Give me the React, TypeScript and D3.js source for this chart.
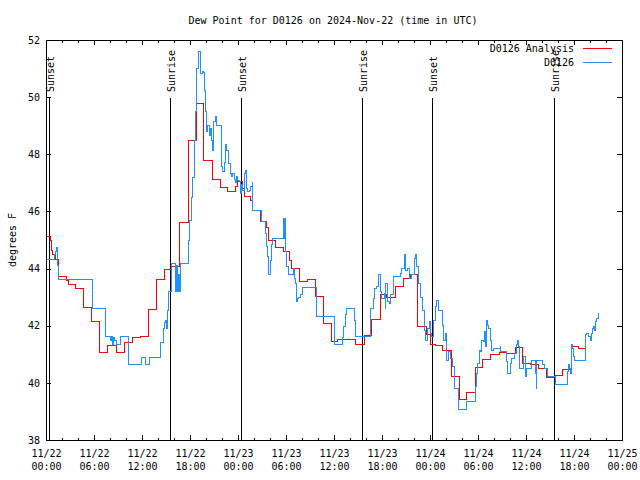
import { useEffect, useRef } from 'react'
import * as d3 from 'd3'

const chartTitle = 'Dew Point for D0126 on 2024-Nov-22 (time in UTC)'
const yAxisLabel = 'degrees F'
const seriesNames = ['D0126 Analysis', 'D0126']
const seriesColors = ['#ff0000', '#1e90ff']

// hours since 11/22 00:00 UTC
const xTickHours = [0, 6, 12, 18, 24, 30, 36, 42, 48, 54, 60, 66, 72]
const xTickDays = ['11/22', '11/22', '11/22', '11/22', '11/23', '11/23', '11/23', '11/23', '11/24', '11/24', '11/24', '11/24', '11/25']
const xTickTimes = ['00:00', '06:00', '12:00', '18:00', '00:00', '06:00', '12:00', '18:00', '00:00', '06:00', '12:00', '18:00', '00:00']
const yTicks = [38, 40, 42, 44, 46, 48, 50, 52]

const sunEvents: [number, string][] = [
  [0.33, 'Sunset'], [15.5, 'Sunrise'], [24.4, 'Sunset'],
  [39.54, 'Sunrise'], [48.29, 'Sunset'], [63.54, 'Sunrise'],
]

// [hour, deg F]
const analysis: [number, number][] = [
  [0, 45.14], [0.59, 44.97], [0.71, 44.65], [0.84, 44.51], [1.13, 44.32], [1.56, 43.74], [2.59, 43.6], [2.79, 43.43],
  [3.71, 43.31], [4.69, 42.64], [5.71, 42.16], [6.69, 41.07], [7.69, 41.31], [8.75, 41.07], [9.81, 41.4], [10.75, 41.6],
  [11.75, 41.64], [12.75, 42.57], [13.75, 43.62], [14.75, 43.97], [15.69, 44.07], [16.7, 45.6], [17.79, 48.48], [18.84, 49.78],
  [19.71, 47.77], [20.75, 47.12], [21.75, 46.83], [22.69, 46.69], [23.63, 46.89], [23.88, 47.06], [24.5, 46.8], [24.75, 46.54],
  [25.5, 46.38], [25.79, 46.05], [26.75, 45.64], [27.5, 45.44], [27.79, 45.0], [28.71, 44.74], [29.66, 44.59], [30.38, 44.3],
  [30.71, 44.01], [31.63, 43.54], [32.66, 43.63], [33.71, 43.04], [34.66, 42.07], [35.71, 41.46], [36.46, 41.53], [38.71, 41.36],
  [39.75, 41.65], [40.71, 42.22], [41.75, 43.1], [42.59, 42.99], [43.63, 43.37], [44.63, 43.66], [45.59, 43.78], [46.46, 41.97],
  [47.5, 41.68], [48.0, 41.35], [48.63, 41.3], [49.59, 41.15], [50.71, 40.24], [51.63, 39.42], [52.59, 39.67], [53.63, 40.54],
  [54.59, 40.82], [55.59, 41.01], [56.63, 41.07], [57.59, 41.03], [58.63, 41.24], [59.59, 40.69], [60.5, 40.65], [61.54, 40.5],
  [62.59, 40.2], [63.63, 40.26], [64.59, 40.47], [65.71, 41.28], [66.54, 41.19], [67.5, 41.19],
]

const observed: [number, number][] = [
  [0.08, 44.32], [1.04, 44.5], [1.13, 44.6], [1.25, 44.75], [1.38, 44.5], [1.44, 44.1], [1.54, 43.62], [5.84, 42.61],
  [7.46, 41.64], [8.06, 41.5], [8.19, 41.64], [8.31, 41.36], [8.44, 41.6], [8.56, 41.5], [8.75, 41.36], [9.34, 41.64],
  [10.29, 40.63], [11.88, 40.89], [12.41, 40.63], [12.91, 40.89], [14.25, 41.4], [14.66, 41.91], [14.81, 42.1], [14.94, 42.2],
  [15.06, 41.91], [15.16, 42.55], [15.29, 43.19], [15.63, 43.7], [15.71, 44.18], [16.21, 43.19], [16.31, 44.1], [16.46, 43.19],
  [16.56, 43.8], [16.66, 43.19], [16.75, 44.18], [17.79, 45.0], [17.94, 45.7], [18.13, 46.5], [18.31, 47.2], [18.5, 48.5],
  [18.69, 49.5], [18.84, 51.0], [19.04, 51.59], [19.25, 50.83], [19.5, 50.9], [19.66, 50.88], [19.75, 50.25], [19.88, 49.49],
  [20.0, 48.8], [20.21, 49.02], [20.38, 48.67], [20.5, 48.9], [20.63, 48.5], [20.75, 48.15], [20.91, 49.14], [21.13, 49.34],
  [21.34, 49.02], [21.88, 47.57], [22.09, 47.39], [22.25, 47.7], [22.41, 48.33], [22.59, 48.15], [22.79, 47.68], [23.0, 47.33],
  [23.21, 47.22], [23.34, 47.33], [23.5, 47.12], [23.63, 47.0], [23.84, 47.22], [23.91, 47.08], [24.16, 47.04], [24.34, 46.63],
  [24.46, 46.93], [24.59, 46.75], [24.75, 47.33], [24.88, 47.45], [25.0, 46.81], [25.16, 46.69], [25.41, 46.75], [25.59, 46.89],
  [25.75, 47.0], [25.84, 46.05], [26.88, 45.64], [27.46, 45.23], [27.54, 44.77], [27.66, 44.42], [27.84, 43.78], [28.0, 44.3],
  [28.21, 44.83], [28.34, 45.06], [29.63, 45.76], [29.71, 45.06], [29.79, 45.76], [29.94, 44.6], [30.09, 44.07], [30.29, 43.78],
  [30.91, 44.0], [31.04, 43.65], [31.21, 43.48], [31.34, 42.84], [31.41, 42.95], [31.54, 43.0], [31.75, 43.1], [32.09, 43.34],
  [33.84, 42.34], [36.0, 41.35], [37.04, 41.6], [37.16, 41.97], [37.38, 42.38], [37.59, 42.61], [38.54, 42.2], [38.63, 41.62],
  [40.5, 42.08], [40.59, 42.61], [40.91, 42.96], [41.04, 43.31], [41.34, 43.37], [41.54, 43.78], [41.75, 43.19], [41.96, 42.96],
  [42.29, 43.13], [42.38, 42.61], [42.46, 43.48], [42.71, 42.84], [42.91, 42.78], [43.09, 43.08], [43.41, 43.72], [44.25, 43.83],
  [44.46, 44.01], [44.79, 44.48], [44.96, 43.95], [45.21, 44.01], [45.38, 43.66], [45.71, 43.78], [46.04, 44.36], [46.13, 44.48],
  [46.34, 44.07], [46.54, 43.48], [46.75, 43.0], [47.09, 42.55], [47.25, 41.85], [47.46, 41.5], [47.66, 41.91], [47.88, 42.14],
  [48.0, 41.73], [48.21, 41.62], [48.41, 42.2], [48.63, 42.67], [48.84, 42.9], [49.04, 42.53], [49.54, 42.02], [49.66, 41.5],
  [49.88, 41.73], [50.0, 40.8], [50.29, 41.09], [50.59, 40.86], [50.79, 40.57], [51.04, 39.81], [51.54, 39.08], [52.59, 39.34],
  [53.63, 39.87], [53.75, 40.33], [53.91, 40.68], [54.13, 41.15], [54.25, 41.09], [54.46, 41.5], [54.66, 41.44], [54.79, 41.79],
  [54.88, 41.26], [55.0, 42.2], [55.21, 42.02], [55.29, 41.91], [55.59, 41.5], [55.71, 41.15], [55.91, 41.21], [56.75, 41.26],
  [56.84, 41.09], [57.5, 40.74], [57.66, 40.33], [58.0, 40.68], [58.21, 40.86], [58.54, 41.03], [58.84, 41.33], [58.96, 41.5],
  [59.04, 41.26], [59.16, 40.51], [59.66, 40.92], [59.88, 40.22], [60.0, 40.39], [60.09, 40.51], [60.71, 40.8], [61.21, 40.33],
  [61.25, 39.81], [61.34, 40.8], [62.09, 40.63], [62.25, 40.51], [62.66, 40.24], [63.63, 39.96], [65.16, 40.39], [65.29, 40.63],
  [65.41, 40.51], [65.5, 40.33], [65.63, 41.03], [65.71, 41.33], [65.84, 41.21], [65.91, 40.92], [66.04, 40.78], [67.46, 41.68],
  [67.59, 41.73], [67.79, 41.62], [68.0, 41.5], [68.13, 41.73], [68.29, 41.91], [68.41, 41.97], [68.54, 41.85], [68.71, 42.14],
  [68.84, 42.26], [69.04, 42.43],
]

const FONT = "'DejaVu Sans Mono', 'Liberation Mono', monospace"

export default function App() {
  const ref = useRef<SVGSVGElement | null>(null)
  const svgWidth = 640
  const svgHeight = 480

  useEffect(() => {
    const svg = d3.select(ref.current)
    svg.selectAll('*').remove()

    const margin = { top: 40, right: 18, bottom: 40, left: 46 }
    const width = svgWidth - margin.left - margin.right
    const height = svgHeight - margin.top - margin.bottom

    const x = d3.scaleLinear().domain([0, 72]).range([0, width])
    const y = d3.scaleLinear().domain([38, 52]).range([height, 0])

    svg.append('rect').attr('width', svgWidth).attr('height', svgHeight).attr('fill', '#fff')

    svg.append('text')
      .attr('x', 333).attr('y', 24)
      .attr('text-anchor', 'middle')
      .attr('font-family', FONT).attr('font-size', 10)
      .text(chartTitle)

    svg.append('text')
      .attr('transform', 'translate(16,240) rotate(-90)')
      .attr('text-anchor', 'middle')
      .attr('font-family', FONT).attr('font-size', 10)
      .text(yAxisLabel)

    const chart = svg.append('g').attr('transform', `translate(${margin.left},${margin.top})`)

    svg.append('defs').append('clipPath').attr('id', 'plot-clip')
      .append('rect').attr('width', width).attr('height', height)

    const minorHours = d3.range(0, 73, 2).filter((h) => h % 6 !== 0)

    const styleAxis = (g: d3.Selection<SVGGElement, unknown, null, undefined>) => {
      g.attr('font-family', FONT).attr('font-size', 10)
      g.select('.domain').remove()
      g.selectAll('.tick line').attr('stroke', '#000').attr('shape-rendering', 'crispEdges')
    }

    // bottom axis, two line labels
    chart.append('g')
      .attr('transform', `translate(0,${height})`)
      .call(d3.axisBottom(x).tickValues(xTickHours).tickSize(-5).tickSizeOuter(0).tickFormat(() => ''))
      .call(styleAxis)
      .call((g) => g.selectAll<SVGTextElement, number>('.tick text').each(function (_d, i) {
        const t = d3.select(this).attr('y', 0).attr('dy', null).attr('fill', '#000')
        t.append('tspan').attr('x', 0).attr('y', 17).text(xTickDays[i])
        t.append('tspan').attr('x', 0).attr('y', 30).text(xTickTimes[i])
      }))
    chart.append('g')
      .attr('transform', `translate(0,${height})`)
      .call(d3.axisBottom(x).tickValues(minorHours).tickSize(-2.5).tickSizeOuter(0).tickFormat(() => ''))
      .call(styleAxis)

    // top mirror
    chart.append('g')
      .call(d3.axisTop(x).tickValues(xTickHours).tickSize(-5).tickSizeOuter(0).tickFormat(() => ''))
      .call(styleAxis)
    chart.append('g')
      .call(d3.axisTop(x).tickValues(minorHours).tickSize(-2.5).tickSizeOuter(0).tickFormat(() => ''))
      .call(styleAxis)

    chart.append('g')
      .call(d3.axisLeft(y).tickValues(yTicks).tickSize(-5).tickSizeOuter(0).tickPadding(6).tickFormat(d3.format('d')))
      .call(styleAxis)
      .call((g) => g.selectAll('.tick text').attr('fill', '#000'))
    chart.append('g')
      .attr('transform', `translate(${width},0)`)
      .call(d3.axisRight(y).tickValues(yTicks).tickSize(-5).tickSizeOuter(0).tickFormat(() => ''))
      .call(styleAxis)

    // sunrise / sunset markers
    const sun = chart.append('g')
    sunEvents.forEach(([h, label]) => {
      const sx = Math.round(x(h)) + 0.5
      sun.append('line')
        .attr('x1', sx).attr('x2', sx)
        .attr('y1', 58).attr('y2', height)
        .attr('stroke', '#000').attr('stroke-width', 1)
        .attr('shape-rendering', 'crispEdges')
      sun.append('text')
        .attr('transform', `translate(${sx + 4},52) rotate(-90)`)
        .attr('text-anchor', 'start')
        .attr('font-family', FONT).attr('font-size', 10)
        .text(label)
    })

    const line = d3.line<[number, number]>()
      .x((d) => x(d[0]))
      .y((d) => y(d[1]))
      .curve(d3.curveStepAfter)

    const plot = chart.append('g').attr('clip-path', 'url(#plot-clip)')
    ;[analysis, observed].forEach((series, i) => {
      plot.append('path')
        .datum(series)
        .attr('d', line)
        .attr('fill', 'none')
        .attr('stroke', seriesColors[i])
        .attr('stroke-width', 1)
        .attr('shape-rendering', 'crispEdges')
    })

    // legend
    const legend = svg.append('g')
    seriesNames.forEach((name, i) => {
      const ly = 48 + i * 14
      legend.append('text')
        .attr('x', 574).attr('y', ly).attr('dy', '0.35em')
        .attr('text-anchor', 'end')
        .attr('font-family', FONT).attr('font-size', 10)
        .text(name)
      legend.append('line')
        .attr('x1', 583).attr('x2', 612)
        .attr('y1', ly + 0.5).attr('y2', ly + 0.5)
        .attr('stroke', seriesColors[i]).attr('stroke-width', 1)
        .attr('shape-rendering', 'crispEdges')
    })

    // border
    chart.append('rect')
      .attr('x', 0.5).attr('y', 0.5)
      .attr('width', width).attr('height', height)
      .attr('fill', 'none').attr('stroke', '#000')
      .attr('shape-rendering', 'crispEdges')
  }, [])

  return (
    <svg
      ref={ref}
      width={svgWidth}
      height={svgHeight}
      style={{ position: 'absolute', left: 0, top: 0 }}
    />
  )
}
